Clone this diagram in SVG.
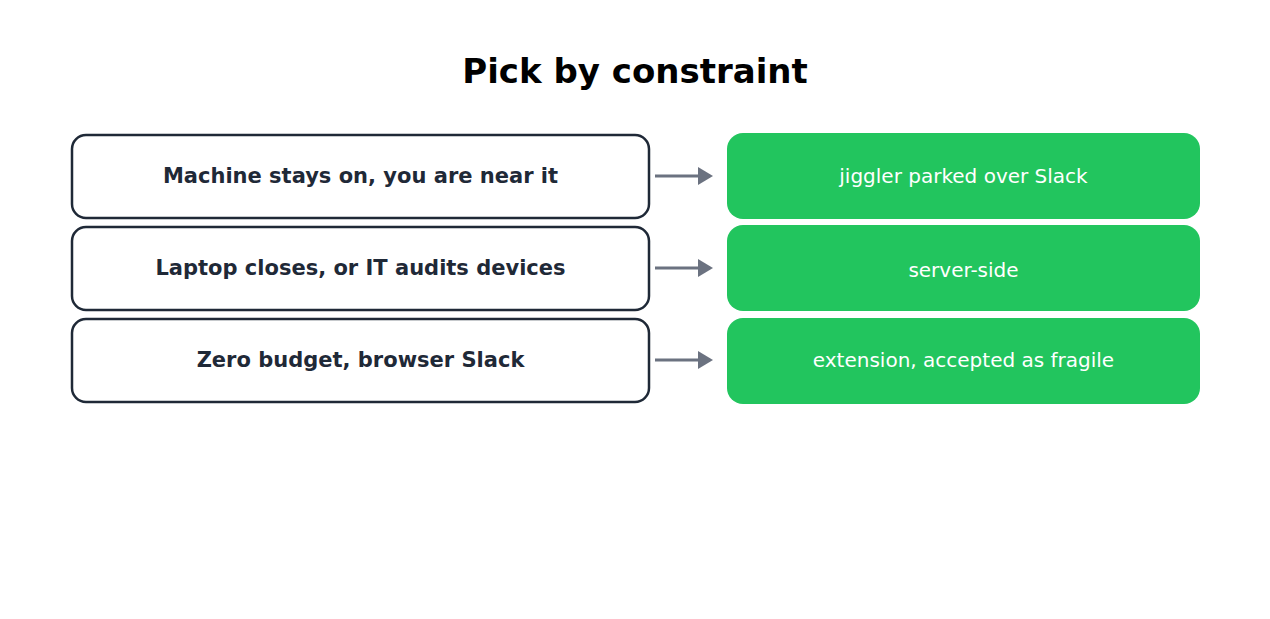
<svg xmlns="http://www.w3.org/2000/svg" width="1270" height="619" viewBox="0 0 1270 619">
<style>
.t{font-family:"DejaVu Sans",sans-serif;text-anchor:middle}
.l{fill:#fff;stroke:#1f2937;stroke-width:2.5}
.r{fill:#22c55e}
.lt{font-size:21px;font-weight:bold;fill:#1f2937}
.rt{font-size:20px;fill:#fff}
.c{stroke:#6b7280;stroke-width:3;fill:none;marker-end:url(#a)}
</style>
<defs><marker id="a" markerWidth="6" markerHeight="6" refX="4" refY="3" orient="auto" markerUnits="strokeWidth"><path d="M0,0 L5,3 L0,6 Z" fill="#6b7280"/></marker></defs>
<rect width="1270" height="619" fill="#fff"/>
<text class="t" x="635" y="83" font-size="34" font-weight="bold" fill="#000">Pick by constraint</text>
<g id="n1"><rect class="l" x="72" y="135" width="577" height="83" rx="14"/><text class="t lt" x="360.5" y="183">Machine stays on, you are near it</text></g>
<g id="n2"><rect class="l" x="72" y="227" width="577" height="83" rx="14"/><text class="t lt" x="360.5" y="275">Laptop closes, or IT audits devices</text></g>
<g id="n3"><rect class="l" x="72" y="319" width="577" height="83" rx="14"/><text class="t lt" x="360.5" y="367">Zero budget, browser Slack</text></g>
<g id="r1"><rect class="r" x="727" y="133" width="473" height="86" rx="16"/><text class="t rt" x="963.5" y="183">jiggler parked over Slack</text></g>
<g id="r2"><rect class="r" x="727" y="225" width="473" height="86" rx="16"/><text class="t rt" x="963.5" y="277">server-side</text></g>
<g id="r3"><rect class="r" x="727" y="318" width="473" height="86" rx="16"/><text class="t rt" x="963.5" y="367">extension, accepted as fragile</text></g>
<g id="connectors">
<line class="c" x1="655" y1="176" x2="710" y2="176"/>
<line class="c" x1="655" y1="268" x2="710" y2="268"/>
<line class="c" x1="655" y1="360" x2="710" y2="360"/>
</g>
</svg>
